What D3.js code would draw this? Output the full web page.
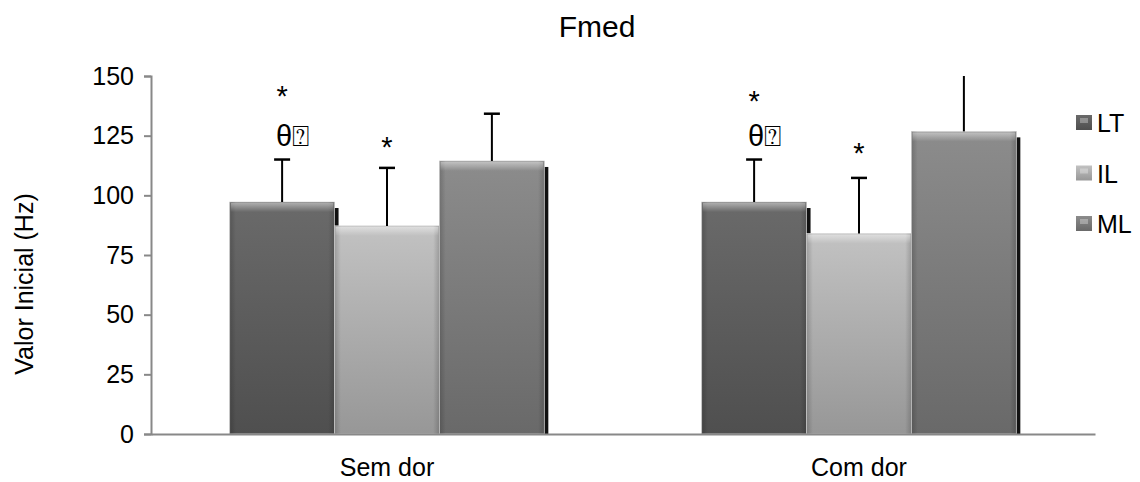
<!DOCTYPE html>
<html>
<head>
<meta charset="utf-8">
<script src="https://cdn.jsdelivr.net/npm/d3@7"></script>
<style>
  body { margin: 0; background: #fff; }
  text { font-family: "Liberation Sans", Arial, sans-serif; fill: #000; }
</style>
</head>
<body>
<div id="chart"></div>
<script>
// data
var categories = ["Sem dor", "Com dor"];
var seriesNames = ["LT", "IL", "ML"];
var ltMean = [97.2, 97.2];
var ilMean = [87.2, 84.0];
var mlMean = [114.4, 126.8];
var ltSd = [17.8, 17.8];
var ilSd = [24.3, 23.3];
var mlSd = [19.8, 26];
var yTicks = [0, 25, 50, 75, 100, 125, 150];

// significance marks: category, series, text, level (in Hz)
var markCat = ["Sem dor", "Sem dor", "Sem dor", "Com dor", "Com dor", "Com dor"];
var markSeries = ["LT", "LT", "IL", "LT", "LT", "IL"];
var markText = ["*", "θ⍰", "*", "*", "θ⍰", "*"];
var markLevel = [137.4, 120.6, 116.0, 135.3, 120.6, 113.6];

var width = 1140, height = 482;
var plot = { left: 151, right: 1095, top: 76, bottom: 434 };

var seriesColor = {
  LT: { top: "#6a6a6a", bottom: "#4f4f4f" },
  IL: { top: "#c2c2c2", bottom: "#979797" },
  ML: { top: "#8c8c8c", bottom: "#696969" }
};

var means = { LT: ltMean, IL: ilMean, ML: mlMean };
var sds = { LT: ltSd, IL: ilSd, ML: mlSd };

var rows = [];
categories.forEach(function(c, i) {
  seriesNames.forEach(function(s) {
    rows.push({ cat: c, series: s, mean: means[s][i], sd: sds[s][i] });
  });
});

var svg = d3.select("#chart").append("svg")
  .attr("width", width)
  .attr("height", height);

var defs = svg.append("defs");

seriesNames.forEach(function(s) {
  var g = defs.append("linearGradient")
    .attr("id", "grad-" + s)
    .attr("x1", 0).attr("y1", 0).attr("x2", 0).attr("y2", 1);
  g.append("stop").attr("offset", "0%").attr("stop-color", seriesColor[s].top);
  g.append("stop").attr("offset", "100%").attr("stop-color", seriesColor[s].bottom);
});

// bevel: light band on top, darker sides
var bevelTop = defs.append("linearGradient")
  .attr("id", "bevel-top")
  .attr("x1", 0).attr("y1", 0).attr("x2", 0).attr("y2", 1);
bevelTop.append("stop").attr("offset", "0%").attr("stop-color", "#fff").attr("stop-opacity", 0.45);
bevelTop.append("stop").attr("offset", "100%").attr("stop-color", "#fff").attr("stop-opacity", 0);

var bevelSide = defs.append("linearGradient")
  .attr("id", "bevel-side")
  .attr("x1", 0).attr("y1", 0).attr("x2", 1).attr("y2", 0);
bevelSide.append("stop").attr("offset", "0%").attr("stop-color", "#000").attr("stop-opacity", 0.18);
bevelSide.append("stop").attr("offset", "6%").attr("stop-color", "#000").attr("stop-opacity", 0);
bevelSide.append("stop").attr("offset", "94%").attr("stop-color", "#000").attr("stop-opacity", 0);
bevelSide.append("stop").attr("offset", "100%").attr("stop-color", "#000").attr("stop-opacity", 0.18);

defs.append("clipPath").attr("id", "plot-clip")
  .append("rect")
  .attr("x", plot.left).attr("y", plot.top)
  .attr("width", plot.right - plot.left).attr("height", plot.bottom - plot.top);

var x0 = d3.scaleBand()
  .domain(categories)
  .range([plot.left, plot.right])
  .paddingInner(0)
  .paddingOuter(0);

var x1 = d3.scaleBand()
  .domain(seriesNames)
  .range([0, x0.bandwidth()])
  .paddingInner(0)
  .paddingOuter(0.75);

var y = d3.scaleLinear()
  .domain([0, 150])
  .range([plot.bottom, plot.top]);

// title
svg.append("text")
  .attr("x", 597)
  .attr("y", 37)
  .attr("text-anchor", "middle")
  .style("font-size", "30px")
  .text("Fmed");

// y axis title
svg.append("text")
  .attr("transform", "translate(33," + 284 + ") rotate(-90)")
  .attr("text-anchor", "middle")
  .style("font-size", "25px")
  .text("Valor Inicial (Hz)");

// bars
var barG = svg.append("g");

var bars = barG.selectAll(".bar")
  .data(rows)
  .enter().append("g")
  .attr("class", "bar")
  .attr("transform", function(d) { return "translate(" + (x0(d.cat) + x1(d.series)) + ",0)"; });

// shadow strip on the right edge
bars.append("rect")
  .attr("x", x1.bandwidth() - 1)
  .attr("y", function(d) { return y(d.mean) + 6; })
  .attr("width", 5)
  .attr("height", function(d) { return y(0) - y(d.mean) - 6; })
  .attr("fill", "#111");

bars.append("rect")
  .attr("x", 0)
  .attr("y", function(d) { return y(d.mean); })
  .attr("width", x1.bandwidth())
  .attr("height", function(d) { return y(0) - y(d.mean); })
  .attr("fill", function(d) { return "url(#grad-" + d.series + ")"; })
  .attr("stroke", "#d8d8d8")
  .attr("stroke-width", 0.8);

bars.append("rect")
  .attr("x", 0)
  .attr("y", function(d) { return y(d.mean); })
  .attr("width", x1.bandwidth())
  .attr("height", function(d) { return y(0) - y(d.mean); })
  .attr("fill", "url(#bevel-side)");

bars.append("rect")
  .attr("x", 1)
  .attr("y", function(d) { return y(d.mean) + 1; })
  .attr("width", x1.bandwidth() - 2)
  .attr("height", 9)
  .attr("fill", "url(#bevel-top)");

// error bars (upper only), clipped at the plot top
var errG = svg.append("g").attr("clip-path", "url(#plot-clip)");

var errs = errG.selectAll(".err")
  .data(rows)
  .enter().append("g")
  .attr("class", "err")
  .attr("transform", function(d) { return "translate(" + (x0(d.cat) + x1(d.series) + x1.bandwidth() / 2) + ",0)"; });

errs.append("line")
  .attr("x1", 0).attr("x2", 0)
  .attr("y1", function(d) { return y(d.mean); })
  .attr("y2", function(d) { return y(d.mean + d.sd); })
  .attr("stroke", "#000")
  .attr("stroke-width", 2);

errs.append("line")
  .attr("x1", -8).attr("x2", 8)
  .attr("y1", function(d) { return y(d.mean + d.sd); })
  .attr("y2", function(d) { return y(d.mean + d.sd); })
  .attr("stroke", "#000")
  .attr("stroke-width", 2.5);

// axes
var yAxis = d3.axisLeft(y).tickValues(yTicks).tickSize(7).tickPadding(10);
var yG = svg.append("g")
  .attr("transform", "translate(" + plot.left + ",0)")
  .call(yAxis);
yG.select(".domain").attr("stroke", "#888").attr("stroke-width", 2);
yG.selectAll(".tick line").attr("stroke", "#888").attr("stroke-width", 2);
yG.selectAll(".tick text")
  .style("font-size", "25px")
  .style("font-family", "'Liberation Sans', Arial, sans-serif")
  .attr("fill", "#000");

var xAxis = d3.axisBottom(x0).tickSize(0).tickPadding(24);
var xG = svg.append("g")
  .attr("transform", "translate(0," + plot.bottom + ")")
  .call(xAxis);
xG.select(".domain").attr("stroke", "#888").attr("stroke-width", 2);
xG.selectAll(".tick text")
  .style("font-size", "25px")
  .style("font-family", "'Liberation Sans', Arial, sans-serif")
  .attr("fill", "#000");

// significance marks
var marks = markText.map(function(t, i) {
  return { cat: markCat[i], series: markSeries[i], text: t, level: markLevel[i] };
});

svg.selectAll(".mark")
  .data(marks)
  .enter().append("text")
  .attr("class", "mark")
  .attr("x", function(d) {
    var cx = x0(d.cat) + x1(d.series) + x1.bandwidth() / 2;
    return d.text === "*" ? cx : cx - 6;
  })
  .attr("y", function(d) { return y(d.level); })
  .attr("text-anchor", function(d) { return d.text === "*" ? "middle" : "start"; })
  .style("font-size", "29px")
  .text(function(d) { return d.text; });

// legend
var legend = svg.append("g").attr("transform", "translate(1076,123)");

var item = legend.selectAll(".item")
  .data(seriesNames)
  .enter().append("g")
  .attr("class", "item")
  .attr("transform", function(d, i) { return "translate(0," + (i * 50.5) + ")"; });

item.append("rect")
  .attr("x", 0).attr("y", -8)
  .attr("width", 16).attr("height", 15)
  .attr("fill", function(d) { return "url(#grad-" + d + ")"; });

item.append("rect")
  .attr("x", 4).attr("y", -5)
  .attr("width", 8).attr("height", 5)
  .attr("fill", "#fff")
  .attr("opacity", 0.3);

item.append("text")
  .attr("x", 21)
  .attr("y", 9)
  .style("font-size", "25px")
  .text(function(d) { return d; });
</script>
</body>
</html>
